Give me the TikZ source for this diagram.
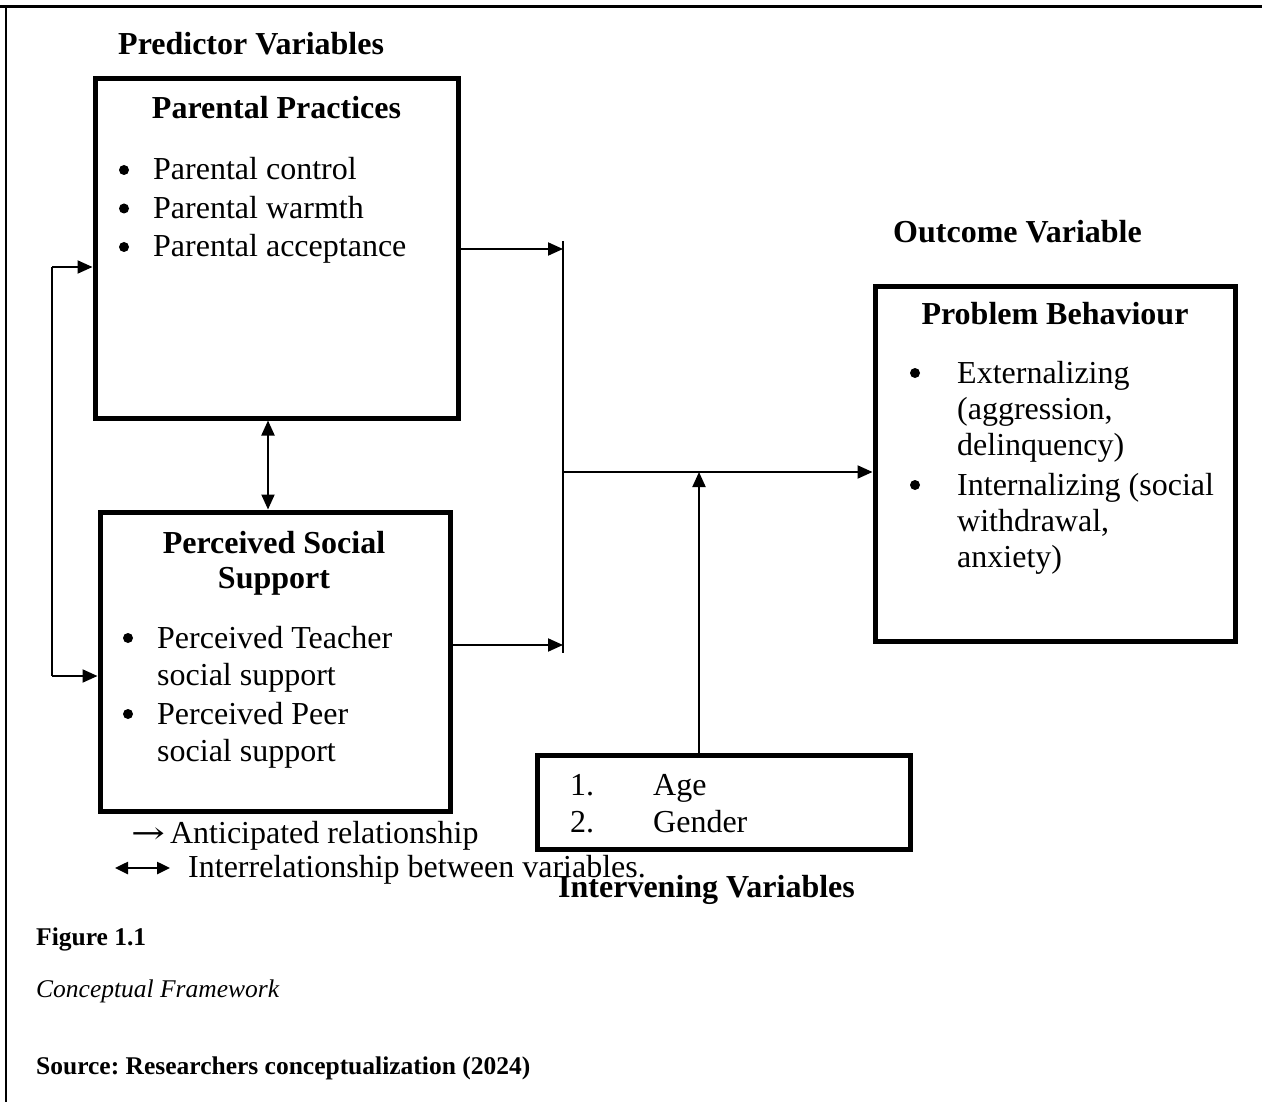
\documentclass[tikz,border=0pt]{standalone}
\usepackage{fontspec}
\setmainfont{Liberation Serif}
\newfontfamily\arrfnt{DejaVu Serif}
\usetikzlibrary{arrows.meta}
\newcommand\bigfnt{\fontsize{32}{38}\selectfont}
\newcommand\capfnt{\fontsize{25.5}{30}\selectfont}
\frenchspacing
\begin{document}
\begin{tikzpicture}[x=1pt,y=-1pt,
  box/.style={draw, line width=5pt, rectangle, inner sep=0pt},
  txt/.style={anchor=base west, inner sep=0pt, font=\bigfnt},
  ttl/.style={anchor=base, inner sep=0pt, font=\bigfnt\bfseries},
  bul/.style={circle, fill, inner sep=0pt, minimum size=10pt},
  captxt/.style={anchor=base west, inner sep=0pt, font=\capfnt},
  conn/.style={line width=2pt},
  arr/.style={line width=2pt, -{Triangle[length=15pt,width=13pt]}},
  darr/.style={line width=2pt, {Triangle[length=15pt,width=13pt]}-{Triangle[length=15pt,width=13pt]}}
]
\useasboundingbox (0,0) rectangle (1262,1102);
% frame
\coordinate (ftl) at (6,7);
\coordinate (ftr) at (1262,7);
\coordinate (fbl) at (6,1102);
\draw[line width=3pt] (0,7) -- (ftr);
\draw[line width=2pt] (ftl) -- (fbl);

% boxes
\node[box, minimum width=363pt, minimum height=339pt] (pp) at (276.5,248.5) {};
\node[box, minimum width=350pt, minimum height=299pt] (pss) at (275,661.5) {};
\node[box, minimum width=360pt, minimum height=354pt] (pb) at (1055,464) {};
\node[box, minimum width=373pt, minimum height=94pt] (iv) at (723.5,802) {};

% headings
\node[txt, font=\bigfnt\bfseries] (predv) at (118,55) {Predictor Variables};
\node[txt, font=\bigfnt\bfseries] (outv) at (893,243) {Outcome Variable};
\node[txt, font=\bigfnt\bfseries] (intv) at (558,897) {Intervening Variables};

% Parental Practices
\node[ttl] (ppt) at (276.5,119) {Parental Practices};
\node[bul] (ppb1) at (124,170) {};
\node[bul] (ppb2) at (124,208.5) {};
\node[bul] (ppb3) at (124,247) {};
\node[txt] (pp1) at (153,180) {Parental control};
\node[txt] (pp2) at (153,218.5) {Parental warmth};
\node[txt] (pp3) at (153,257) {Parental acceptance};

% Perceived Social Support
\node[ttl] (psst1) at (274,553) {Perceived Social};
\node[ttl] (psst2) at (274,588) {Support};
\node[bul] (pssb1) at (128,638) {};
\node[bul] (pssb2) at (128,714) {};
\node[txt] (pss1) at (157,648) {Perceived Teacher};
\node[txt] (pss2) at (157,685.5) {social support};
\node[txt] (pss3) at (157,724) {Perceived Peer};
\node[txt] (pss4) at (157,761) {social support};

% Problem Behaviour
\node[ttl] (pbt) at (1055,325) {Problem Behaviour};
\node[bul] (pbb1) at (915,373) {};
\node[bul] (pbb2) at (915,485) {};
\node[txt] (pb1) at (957,383) {Externalizing};
\node[txt] (pb2) at (957,419) {(aggression,};
\node[txt] (pb3) at (957,455) {delinquency)};
\node[txt] (pb4) at (957,495) {Internalizing (social};
\node[txt] (pb5) at (957,531) {withdrawal,};
\node[txt] (pb6) at (957,567) {anxiety)};

% Intervening
\node[txt] (ivn1) at (570,795) {1.};
\node[txt] (iva) at (653,795) {Age};
\node[txt] (ivn2) at (570,832) {2.};
\node[txt] (ivg) at (653,832) {Gender};

% legend
\node[txt] (lg1) at (131,843) {\scalebox{1.35}[1]{\arrfnt\fontsize{30}{36}\selectfont →}\hspace{5pt}Anticipated relationship};
\coordinate (la) at (115,868);
\coordinate (lb) at (170,868);
\draw[line width=2.5pt, {Triangle[length=13pt,width=12pt]}-{Triangle[length=13pt,width=12pt]}] (la) -- (lb);
\node[txt] (lg2) at (188,877) {Interrelationship between variables.};

% captions
\node[captxt, font=\capfnt\bfseries] (fig) at (36,945) {Figure 1.1};
\node[captxt, font=\capfnt\itshape] (cf) at (36,997) {Conceptual Framework};
\node[captxt, font=\capfnt\bfseries] (src) at (36,1074) {Source: Researchers conceptualization (2024)};

% connectors
\coordinate (lt) at (52,267);
\coordinate (lbt) at (52,676);
\draw[conn] (lt) -- (lbt);
\draw[arr] (lt) -- (lt -| pp.west);
\draw[arr] (lbt) -- (lbt -| pss.west);

\coordinate (d) at (268,0);
\draw[darr] (pp.south -| d) -- (pss.north -| d);

\coordinate (jt) at (563,241);
\coordinate (jb) at (563,653);
\draw[line width=1.5pt] (jt) -- (jb);
\coordinate (j1) at (563,249);
\coordinate (j2) at (563,645);
\coordinate (j3) at (563,472);
\coordinate (j4) at (699,472);
\draw[arr] (j1 -| pp.east) -- (j1);
\draw[arr] (j2 -| pss.east) -- (j2);
\draw[arr] (j3) -- (j3 -| pb.west);
\draw[arr] (iv.north -| j4) -- (j4);
\end{tikzpicture}
\end{document}
